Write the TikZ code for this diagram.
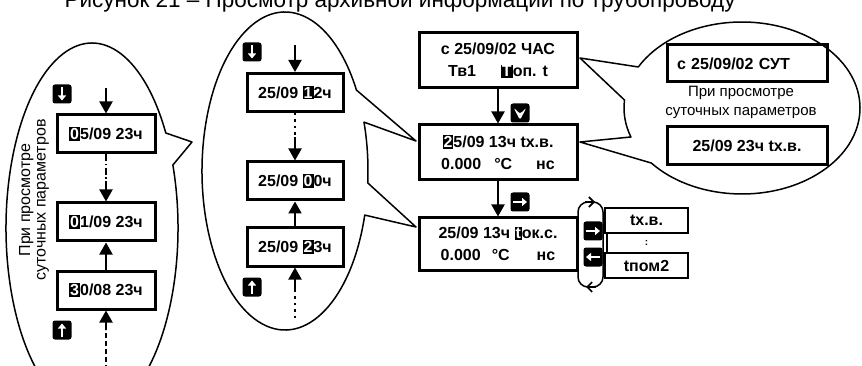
\documentclass[tikz,border=0pt]{standalone}
\usepackage{fontspec}
\setmainfont{Liberation Sans}
\usepackage{tikz}
\usetikzlibrary{arrows.meta,positioning,calc}

\newcommand{\cur}[1]{{\setlength{\fboxsep}{1pt}\colorbox{black}{\textcolor{white}{\vphantom{Ч}#1}}}}

\begin{document}
\begin{tikzpicture}[
    x=1pt, y=-1pt,
    scr/.style={rectangle, draw, line width=3pt, align=center, minimum width=158pt, minimum height=55pt, font=\fontsize{16}{22}\selectfont\bfseries},
    sbox/.style={rectangle, draw, line width=3pt, minimum width=98pt, minimum height=38pt, font=\fontsize{16}{19}\selectfont\bfseries},
    opt/.style={rectangle, draw, line width=2pt, minimum width=83pt, minimum height=25pt, font=\fontsize{16}{19}\selectfont\bfseries},
    bubble/.style={line width=1.5pt, line join=round},
    arr/.style={-{Triangle[length=12pt,width=13pt]}, line width=2pt},
    dashdot/.style={line width=2pt, dash pattern=on 7pt off 2.5pt on 1.5pt off 2.5pt},
    dashline/.style={line width=2pt, dash pattern=on 5pt off 3pt},
    dotline/.style={line width=2.5pt, dash pattern=on 2.5pt off 4pt},
    btn/.style={fill=black, rounded corners=2.5pt, minimum width=19pt, minimum height=19pt, inner sep=0pt},
    btndown/.style={btn, path picture={\draw[white, line width=2.6pt, -{Triangle[length=5pt,width=8pt]}] ([yshift=6.5pt]path picture bounding box.center) -- ([yshift=-6.5pt]path picture bounding box.center);}},
    btnup/.style={btn, path picture={\draw[white, line width=2.6pt, -{Triangle[length=5pt,width=8pt]}] ([yshift=-6.5pt]path picture bounding box.center) -- ([yshift=6.5pt]path picture bounding box.center);}},
    btnright/.style={btn, path picture={\draw[white, line width=2.2pt, -{Triangle[length=5pt,width=8pt]}] ([xshift=-7pt]path picture bounding box.center) -- ([xshift=7pt]path picture bounding box.center);}},
    btnleft/.style={btn, path picture={\draw[white, line width=2.2pt, -{Triangle[length=5pt,width=8pt]}] ([xshift=7pt]path picture bounding box.center) -- ([xshift=-7pt]path picture bounding box.center);}},
    btnsel/.style={btn, path picture={\fill[white] ([shift={(-6.5pt,5.5pt)}]path picture bounding box.center) -- ([shift={(0pt,-1pt)}]path picture bounding box.center) -- ([shift={(6.5pt,5.5pt)}]path picture bounding box.center) -- ([shift={(0pt,-7pt)}]path picture bounding box.center) -- cycle;}},
    loopline/.style={line width=1.5pt, rounded corners=10pt},
    barb/.style={line width=1.6pt, -{Straight Barb[length=5pt,width=10pt]}}
]
    \useasboundingbox (0,0) rectangle (862,366);

    % caption (cut at the top edge)
    \node[anchor=base, font=\fontsize{22.5}{26}\selectfont] (ttl) at (400,8) {Рисунок 21 – Просмотр архивной информации по трубопроводу};

    % main screens
    \node[scr] (scr1) at (498,60.5) {с 25/09/02 ЧАС\\Тв1\hspace{25pt}\cur{Т}оп. t};
    \node[scr, below=34pt of scr1] (scr2) {\cur{2}5/09 13ч tх.в.\\0.000\hspace{13pt}°C\hspace{24pt}нс};
    \node[scr, minimum height=52pt, below=35pt of scr2] (scr3) {25/09 13ч \cur{t}ок.с.\\0.000\hspace{11pt}°C\hspace{27pt}нс};
    \node[btnsel] (k1) at (520,113) {};
    \node[btnright] (k2) at (520,202) {};
    \draw [arr] (scr1) -- (scr2);
    \draw [arr] (scr2) -- (scr3);

    % parameter loop
    \node[opt] (opt1) at (646.5,220.5) {tх.в.};
    \node[opt, below=18pt of opt1] (opt2) {tпом2};
    \draw [line width=1.5pt] ([xshift=3pt]opt1.south west) -- ([xshift=3pt]opt2.north west);
    \node[font=\bfseries] (dots) at ($(opt1.south)!0.5!(opt2.north)$) {:};
    \draw [loopline] (578,245) |- (603,202) |- (578,287) -- cycle;
    \coordinate (lp1) at (585,202);
    \coordinate (lp2) at (595,202);
    \coordinate (lp3) at (596,287);
    \coordinate (lp4) at (586,287);
    \draw [barb] (lp1) -- (lp2);
    \draw [barb] (lp3) -- (lp4);
    \node[btnright] (k3) at (593,231) {};
    \node[btnleft] (k4) at (593,257) {};

    % hours bubble
    \coordinate (t2a) at (416,141);
    \coordinate (t2b) at (416,227);
    \draw [bubble] ([shift={(285,171)}]-16.1:83pt and 159pt) arc[start angle=-16.1, end angle=-329.4, x radius=83pt, y radius=159pt]
        -- (t2a) -- ([shift={(285,171)}]17.9:83pt and 159pt) arc[start angle=17.9, end angle=-4.3, x radius=83pt, y radius=159pt]
        -- (t2b) -- cycle;
    \node[sbox, minimum width=96pt] (e2a) at (295,92.5) {25/09 \cur{1}2ч};
    \node[sbox, minimum width=96pt, below=47.5pt of e2a] (e2b) {25/09 \cur{0}0ч};
    \node[sbox, minimum width=96pt, below=25pt of e2b] (e2c) {25/09 \cur{2}3ч};
    \node[btndown] (k5) at (252,52) {};
    \node[btnup] (k6) at (252,287) {};
    \coordinate (e2t) at (295,45);
    \coordinate (e2m) at (295,137);
    \coordinate (e2n) at (295,291);
    \coordinate (e2d) at (295,318);
    \draw [arr] (e2t) -- (e2a);
    \draw [dotline] (e2a) -- (e2m);
    \draw [arr] (e2m) -- (e2b);
    \draw [arr] (e2c) -- (e2b);
    \draw [dotline] (e2d) -- (e2n);
    \draw [arr] (e2n) -- (e2c);

    % days bubble
    \coordinate (t1) at (192,142);
    \draw [bubble] ([shift={(92,228)}]19.9:86pt and 185pt) arc[start angle=19.9, end angle=-329.1, x radius=86pt, y radius=185pt] -- (t1) -- cycle;
    \node[rotate=90, align=center, font=\fontsize{16}{15.5}\selectfont] (note1) at (34,200) {При просмотре\\суточных параметров};
    \node[sbox] (e1a) at (106,134) {\cur{0}5/09 23ч};
    \node[sbox, below=47pt of e1a] (e1b) {\cur{0}1/09 23ч};
    \node[sbox, below=27pt of e1b] (e1c) {\cur{3}0/08 23ч};
    \node[btndown] (k7) at (62,94) {};
    \node[btnup] (k8) at (62,330) {};
    \coordinate (e1t) at (106,88);
    \coordinate (e1m) at (106,187);
    \coordinate (e1n) at (106,330);
    \coordinate (e1d) at (106,370);
    \draw [arr] (e1t) -- (e1a);
    \draw [dashdot] (e1a) -- (e1m);
    \draw [arr] (e1m) -- (e1b);
    \draw [arr] (e1c) -- (e1b);
    \draw [dashline] (e1d) -- (e1n);
    \draw [arr] (e1n) -- (e1c);

    % daily archive bubble
    \coordinate (t3a) at (580,58);
    \coordinate (t3b) at (580,142);
    \draw [bubble] ([shift={(742,108)}]219.8:118pt and 86pt) arc[start angle=219.8, end angle=511.5, x radius=118pt, y radius=86pt]
        -- (t3a) -- ([shift={(742,108)}]174.7:118pt and 86pt) arc[start angle=174.7, end angle=199.7, x radius=118pt, y radius=86pt]
        -- (t3b) -- cycle;
    \node[sbox, minimum width=160pt, minimum height=37pt, text width=140pt, align=left] (sut1) at (747,63.5) {с 25/09/02 СУТ};
    \node[align=center, font=\fontsize{15}{19}\selectfont] (note2) at (741,102) {При просмотре\\суточных параметров};
    \node[sbox, minimum width=160pt] (sut2) at (747,146) {25/09 23ч tх.в.};
\end{tikzpicture}
\end{document}
